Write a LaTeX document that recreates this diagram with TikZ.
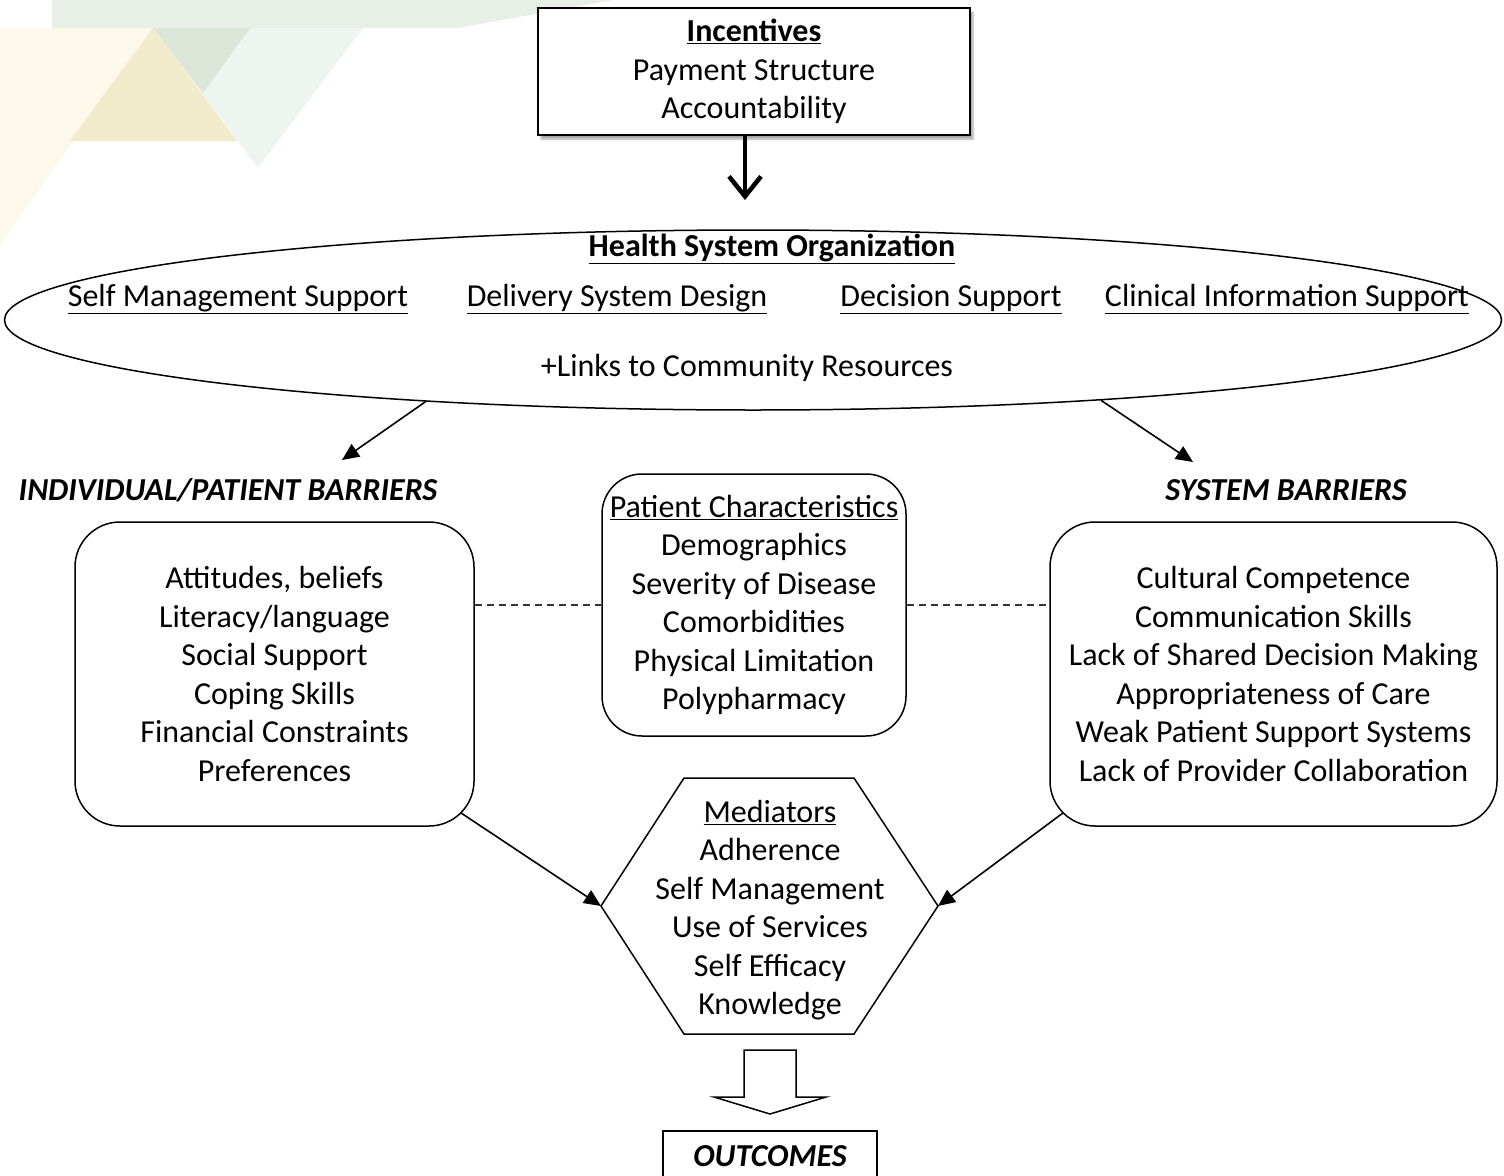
\documentclass[tikz,border=0pt]{standalone}
\usepackage{fontspec}
\setmainfont{Carlito}
\usetikzlibrary{positioning,arrows.meta,shapes.geometric,shadows.blur}

\definecolor{bgband}{HTML}{E8EFE7}
\definecolor{bgpale}{HTML}{FCF9EA}
\definecolor{bgmint}{HTML}{EEF5F1}
\definecolor{bgsage}{HTML}{DBE5D8}
\definecolor{bgsand}{HTML}{F1EBCC}

\tikzset{
  body/.style={font=\fontsize{32}{38.5}\selectfont, align=center, inner sep=0pt},
  barrierbox/.style={body, draw, line width=1.5pt, rounded corners=45pt},
  barrierhead/.style={font=\fontsize{32}{38}\selectfont\bfseries\itshape, inner sep=0pt},
  thinarrow/.style={line width=1.6pt, -{Triangle[length=17pt,width=15pt]}},
  dashlink/.style={line width=1.2pt, draw=black!80, dash pattern=on 7pt off 5pt}
}

\begin{document}
\begin{tikzpicture}[x=1pt,y=-1pt]
  \useasboundingbox (0,0) rectangle (1504,1175);
  \clip (0,0) rectangle (1504,1175);

  % faint background triangles
  \fill[bgpale] (0,28) -- (153,28) -- (0,245) -- cycle;
  \fill[bgband] (52,0) -- (613,0) -- (458,28) -- (52,28) -- cycle;
  \fill[bgmint] (153,28) -- (363,28) -- (258,168) -- cycle;
  \fill[bgsage] (153,28) -- (250,28) -- (203,93) -- cycle;
  \fill[bgsand] (153,28) -- (237,141) -- (70,141) -- cycle;

  % incentives
  \node[body, draw, line width=1.5pt, fill=white, minimum width=432, minimum height=127,
        blur shadow={shadow xshift=3pt, shadow yshift=-4pt, shadow opacity=35}]
    (incent) at (754,71.5) {\textbf{\underline{Incentives}}\\Payment Structure\\Accountability};

  % health system organization
  \node[ellipse, draw, line width=1.5pt, minimum width=1497, minimum height=180, inner sep=0pt]
    (hso) at (753,320) {};
  \node[body] (hsotitle) at (772,249) {\textbf{\underline{Health System Organization}}};
  \node[body] (selfmgmt) at (238,299) {\underline{Self Management Support}};
  \node[body] (delivery) at (617,299) {\underline{Delivery System Design}};
  \node[body] (decision) at (951,299) {\underline{Decision Support}};
  \node[body] (clininfo) at (1287,299) {\underline{Clinical Information Support}};
  \node[body] (links) at (747,368) {+Links to Community Resources};

  \coordinate (hsotip) at (745,200);
  \draw[line width=4.5pt, -{Straight Barb[length=20pt,width=32pt]}] (incent.south -| hsotip) -- (hsotip);

  % barriers
  \node[barrierhead] (indivhead) at (228,490) {INDIVIDUAL/PATIENT BARRIERS};
  \node[barrierhead] (syshead) at (1286,490) {SYSTEM BARRIERS};
  \coordinate (indivtip) at (342,460);
  \coordinate (systip) at (1193,462);
  \draw[thinarrow] (hso.194.4) -- (indivtip);
  \draw[thinarrow] (hso.347.1) -- (systip);

  \node[barrierbox, minimum width=399, minimum height=304] (indiv) at (274.5,674)
    {Attitudes, beliefs\\Literacy/language\\Social Support\\Coping Skills\\Financial Constraints\\Preferences};
  \node[barrierbox, minimum width=447, minimum height=304] (sysb) at (1273.5,674)
    {Cultural Competence\\Communication Skills\\Lack of Shared Decision Making\\Appropriateness of Care\\Weak Patient Support Systems\\Lack of Provider Collaboration};
  \node[barrierbox, rounded corners=40pt, minimum width=304, minimum height=262] (patchar) at (754,605)
    {\underline{Patient Characteristics}\\Demographics\\Severity of Disease\\Comorbidities\\Physical Limitation\\Polypharmacy};

  \draw[dashlink] (patchar.west -| indiv.east) -- (patchar.west);
  \draw[dashlink] (patchar.east) -- (patchar.east -| sysb.west);

  % mediators
  \coordinate (hexw) at (601,906);
  \coordinate (hexe) at (938,906);
  \draw[line width=1.5pt, line join=miter] (684,778) -- (854,778) -- (hexe) -- (854,1034) -- (684,1034) -- (hexw) -- cycle;
  \node[body] (mediat) at (770,910)
    {\underline{Mediators}\\Adherence\\Self Management\\Use of Services\\Self Efficacy\\Knowledge};

  \draw[thinarrow] ([xshift=-14pt,yshift=14pt]indiv.south east) -- (hexw);
  \draw[thinarrow] ([xshift=14pt,yshift=14pt]sysb.south west) -- (hexe);

  % outcomes
  \draw[line width=1.5pt, fill=white] (744,1050) -- (796,1050) -- (796,1097) -- (826,1097)
    -- (770,1114) -- (714,1097) -- (744,1097) -- cycle;
  \node[draw, line width=1.5pt, minimum width=214, minimum height=50, inner sep=0pt,
        font=\fontsize{32}{38}\selectfont\bfseries\itshape] (outcomes) at (770,1156) {OUTCOMES};
\end{tikzpicture}
\end{document}
